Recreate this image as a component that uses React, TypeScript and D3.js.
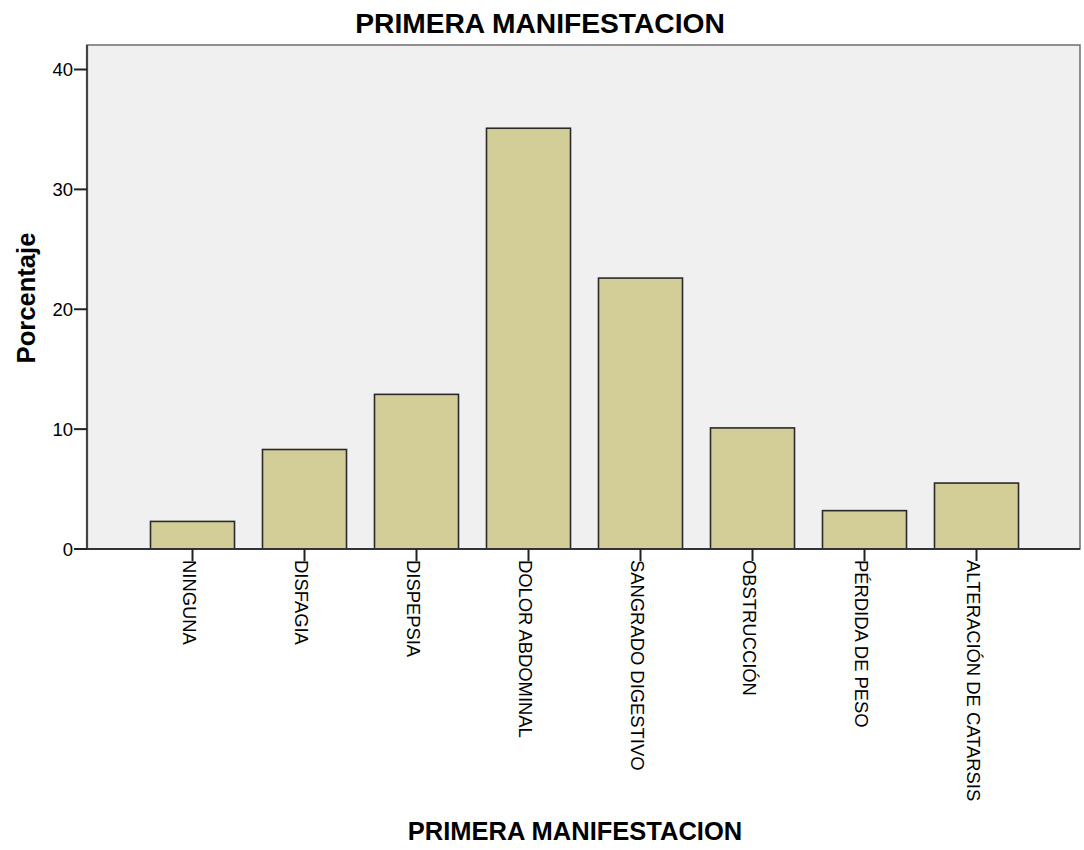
import React, { useEffect, useRef } from "react";
import * as d3 from "d3";

const categories = [
  "NINGUNA",
  "DISFAGIA",
  "DISPEPSIA",
  "DOLOR ABDOMINAL",
  "SANGRADO DIGESTIVO",
  "OBSTRUCCIÓN",
  "PÉRDIDA DE PESO",
  "ALTERACIÓN DE CATARSIS",
];
const percentages = [2.3, 8.3, 12.9, 35.1, 22.6, 10.1, 3.2, 5.5];
const yTicks = [0, 10, 20, 30, 40];
const title = "PRIMERA MANIFESTACION";
const xTitle = "PRIMERA MANIFESTACION";
const yTitle = "Porcentaje";

export default function App() {
  const ref = useRef<SVGSVGElement>(null);

  useEffect(() => {
    const svg = d3.select(ref.current);
    svg.selectAll("*").remove();
    const W = 1084, H = 850;
    const left = 87, right = 1080, top = 45, bottom = 549;
    const font = "Arial, 'Liberation Sans', sans-serif";

    svg.append("rect").attr("width", W).attr("height", H).attr("fill", "#ffffff");

    const y = d3.scaleLinear().domain([0, 40]).range([bottom, 69.5]);
    const x = d3.scaleBand<string>().domain(categories).range([136.5, 1032.5]).paddingInner(0.25).paddingOuter(0.125);

    // plot background
    svg.append("rect")
      .attr("x", left).attr("y", top).attr("width", right - left).attr("height", bottom - top)
      .attr("fill", "#f0f0f0").attr("stroke", "#6e6e6e").attr("stroke-width", 1.5);

    // bars
    svg.append("g").selectAll("rect").data(categories).join("rect")
      .attr("x", (d) => x(d)!)
      .attr("y", (d, i) => y(percentages[i]))
      .attr("width", x.bandwidth())
      .attr("height", (d, i) => bottom - y(percentages[i]))
      .attr("fill", "#d3ce97")
      .attr("stroke", "#2a2a2a")
      .attr("stroke-width", 1.6);

    // y axis line
    svg.append("line").attr("x1", left).attr("x2", left).attr("y1", top).attr("y2", bottom)
      .attr("stroke", "#444").attr("stroke-width", 2.2);
    // x axis line
    svg.append("line").attr("x1", left).attr("x2", right).attr("y1", bottom).attr("y2", bottom)
      .attr("stroke", "#333").attr("stroke-width", 2);

    // y ticks
    const yg = svg.append("g");
    yTicks.forEach((t) => {
      yg.append("line").attr("x1", left - 13).attr("x2", left).attr("y1", y(t)).attr("y2", y(t))
        .attr("stroke", "#222").attr("stroke-width", 2);
      yg.append("text").attr("x", left - 14).attr("y", y(t)).attr("dy", "0.36em")
        .attr("text-anchor", "end").attr("font-family", font).attr("font-size", 18.5)
        .attr("fill", "#000").text(String(t));
    });

    // x ticks and labels
    const xg = svg.append("g");
    categories.forEach((c) => {
      const cx = x(c)! + x.bandwidth() / 2;
      xg.append("line").attr("x1", cx).attr("x2", cx).attr("y1", bottom).attr("y2", bottom + 12)
        .attr("stroke", "#222").attr("stroke-width", 2);
      xg.append("text")
        .attr("transform", `translate(${cx},${bottom + 11}) rotate(90)`)
        .attr("dy", 10)
        .attr("text-anchor", "start")
        .attr("font-family", font).attr("font-size", 18.4).attr("fill", "#000")
        .text(c);
    });

    svg.append("text").attr("x", 540).attr("y", 33).attr("text-anchor", "middle")
      .attr("font-family", font).attr("font-weight", "bold").attr("font-size", 28.2).text(title);
    svg.append("text").attr("x", 575).attr("y", 840).attr("text-anchor", "middle")
      .attr("font-family", font).attr("font-weight", "bold").attr("font-size", 25.5).text(xTitle);
    svg.append("text").attr("transform", `translate(35,${298}) rotate(-90)`).attr("text-anchor", "middle")
      .attr("font-family", font).attr("font-weight", "bold").attr("font-size", 25.6).text(yTitle);
  }, []);

  return (
    <svg ref={ref} width={1084} height={850}
      style={{ position: "absolute", left: 0, top: 0, display: "block" }} />
  );
}
